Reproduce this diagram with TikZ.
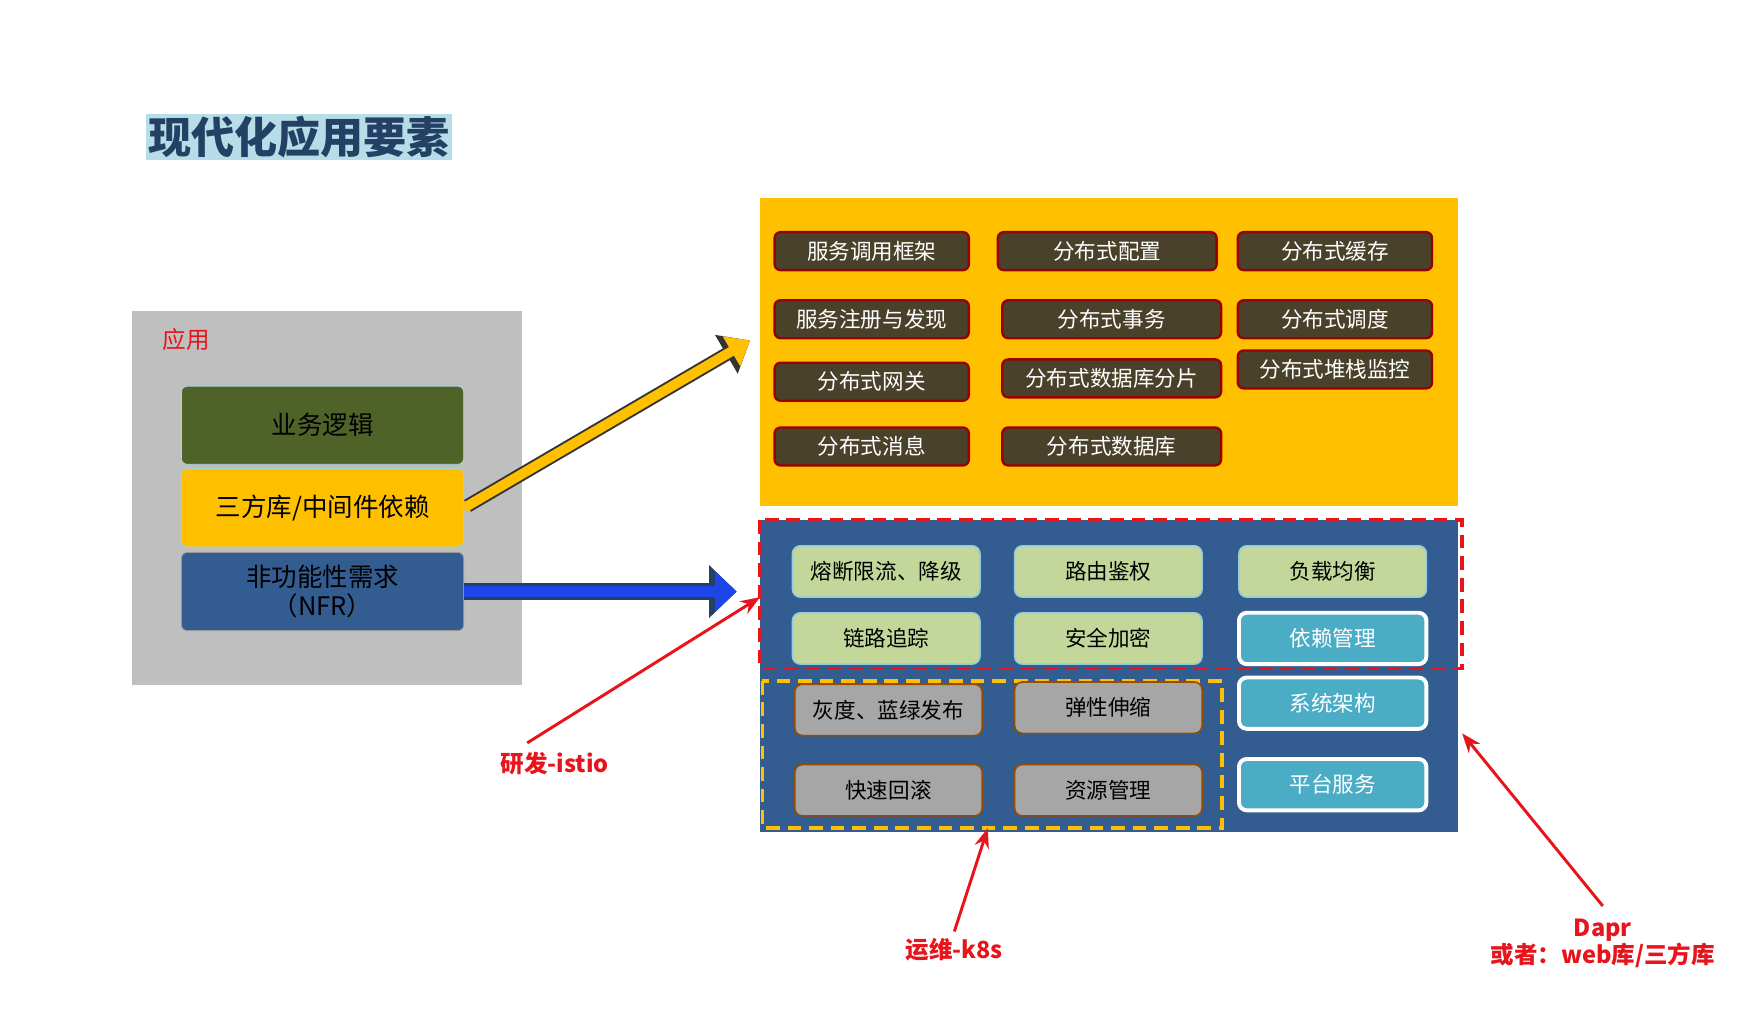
\documentclass[tikz,border=0pt]{standalone}
\usepackage{fontspec}
\setmainfont{Noto Sans CJK SC}
\usetikzlibrary{arrows.meta}
\definecolor{gold}{HTML}{FFC000}
\definecolor{navy}{HTML}{335C91}
\definecolor{olive}{HTML}{4F6228}
\definecolor{darkbox}{HTML}{4A412A}
\definecolor{lgreen}{HTML}{C4D79B}
\definecolor{teal}{HTML}{4BACC6}
\definecolor{lred}{HTML}{E8141B}
\begin{document}
\begin{tikzpicture}[x=0.02cm,y=-0.02cm]
\tikzstyle{dark}=[rounded corners=3pt,fill=darkbox,draw=red!60!black,line width=1.2pt,text=white,font=\fontsize{11}{11}\selectfont,minimum height=0.68cm,inner sep=0pt]
\tikzstyle{green}=[rounded corners=4pt,fill=lgreen,draw=teal!60,line width=0.8pt,font=\fontsize{11}{11}\selectfont,minimum width=3.36cm,minimum height=0.92cm,inner sep=0pt]
\tikzstyle{grey}=[green,fill=black!35,draw=orange!60!black]
\tikzstyle{cyan}=[green,fill=teal,draw=white,line width=2pt,text=white]
\tikzstyle{note}=[text=lred,font=\bfseries\fontsize{12}{14}\selectfont]
\tikzstyle{pointer}=[draw=lred,line width=1.5pt,-{Stealth[length=10pt]}]
\useasboundingbox (0,0) rectangle (1567,917);
% title
\node[fill=teal!40!white,inner sep=1pt,text=navy!70!black,font=\bfseries\fontsize{22}{22}\selectfont] (title) at (268,123) {现代化应用要素};
% application side
\fill[black!25] (118,279) rectangle (468,614);
\node[text=lred,font=\fontsize{12}{12}\selectfont] (app) at (167,304) {应用};
\node[rounded corners=3pt,fill=olive,draw=teal!50,minimum width=5.06cm,minimum height=1.4cm,font=\fontsize{13}{13}\selectfont] (biz) at (289,381) {业务逻辑};
\node[rounded corners=3pt,fill=gold,draw=teal!50,minimum width=5.06cm,minimum height=1.4cm,font=\fontsize{13}{13}\selectfont] (lib) at (289,455) {三方库/中间件依赖};
\node[rounded corners=3pt,fill=navy,draw=black!40,minimum width=5.06cm,minimum height=1.4cm,align=center,font=\fontsize{13}{15}\selectfont] (nfr) at (289,530) {非功能性需求\\（NFR）};
% middleware block
\fill[gold] (681,177) rectangle (1306,453);
\foreach \name/\x/\y/\w/\txt in {
	a1/781/225/174/服务调用框架,
	a2/781/286/174/服务注册与发现,
	a3/781/342/174/分布式网关,
	a4/781/400/174/分布式消息,
	b1/992/225/196/分布式配置,
	b2/996/286/196/分布式事务,
	b3/996/339/196/分布式数据库分片,
	b4/996/400/196/分布式数据库,
	c1/1196/225/174/分布式缓存,
	c2/1196/286/174/分布式调度,
	c3/1196/331/174/分布式堆栈监控}
	\node[dark,minimum width=\w*0.02cm] (\name) at (\x,\y) {\txt};
% NFR block
\fill[navy] (681,466) rectangle (1306,745);
\draw[lred,line width=1.8pt,dash pattern=on 7pt off 4pt] (681,466) rectangle (1310,599);
\draw[gold,line width=1.8pt,dash pattern=on 7pt off 4pt] (683,610) rectangle (1095,742);
\foreach \name/\x/\y/\txt in {
	g1/794/512/熔断限流、降级,
	g2/993/512/路由鉴权,
	g3/1194/512/负载均衡,
	g4/794/572/链路追踪,
	g5/993/572/安全加密}
	\node[green] (\name) at (\x,\y) {\txt};
\foreach \name/\x/\y/\txt in {
	k1/796/636/灰度、蓝绿发布,
	k2/993/634/弹性伸缩,
	k3/796/708/快速回滚,
	k4/993/708/资源管理}
	\node[grey] (\name) at (\x,\y) {\txt};
\foreach \name/\x/\y/\txt in {
	t1/1194/572/依赖管理,
	t2/1194/630/系统架构,
	t3/1194/703/平台服务}
	\node[cyan] (\name) at (\x,\y) {\txt};
% big arrows
\coordinate (up) at (672,305);
\coordinate (right) at (660,530);
\draw[line width=7pt,-{Triangle[length=14pt,width=22pt]},draw=black!80,shorten <=2pt] (lib.east) -- (up);
\draw[line width=5pt,-{Triangle[length=11pt,width=17pt]},gold] (lib.east) -- (up);
\draw[line width=9pt,-{Triangle[length=14pt,width=26pt]},navy!70!black] (nfr.east) -- (right);
\draw[line width=6pt,-{Triangle[length=11pt,width=20pt]},blue!60!teal] (nfr.east) -- (right);
% notes
\node[note] (istio) at (497,684) {研发-istio};
\node[note] (k8s) at (855,851) {运维-k8s};
\node[note,align=center] (dapr) at (1436,845) {Dapr\\或者：web库/三方库};
\coordinate (istioend) at (681,535);
\coordinate (k8send) at (885,742);
\coordinate (daprend) at (1310,657);
\draw[pointer] (istio.north west) ++(30,-2) -- (istioend);
\draw[pointer] (k8s.north) -- (k8send);
\draw[pointer] (dapr.north) ++(0,-5) -- (daprend);
\end{tikzpicture}
\end{document}
